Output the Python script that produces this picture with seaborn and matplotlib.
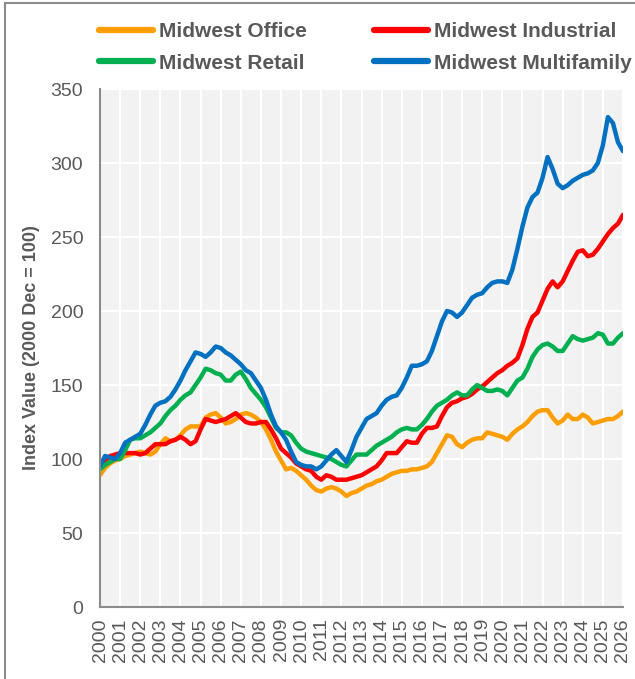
import matplotlib
matplotlib.use("Agg")
import matplotlib.pyplot as plt
import seaborn as sns
import numpy as np
import pandas as pd
from matplotlib.lines import Line2D
from matplotlib.patches import Rectangle

# quarterly dates, 2000 Q1 .. 2026 Q1
quarters = [2000 + k / 4 for k in range(105)]

office = [
    89, 94, 97, 99, 100, 102, 103, 104, 105, 104, 103, 105,
    110, 114, 112, 113, 116, 120, 122, 122, 122, 128, 130, 131,
    128, 124, 125, 127, 130, 131, 130, 128, 125, 120, 113, 105,
    99, 93, 94, 92, 89, 86, 82, 79, 78, 80, 81, 80,
    78, 75, 77, 78, 80, 82, 83, 85, 86, 88, 90, 91,
    92, 92, 93, 93, 94, 95, 98, 104, 110, 116, 115, 110,
    108, 111, 113, 114, 114, 118, 117, 116, 115, 113, 117, 120,
    122, 125, 129, 132, 133, 133, 128, 124, 126, 130, 127, 127,
    130, 128, 124, 125, 126, 127, 127, 129, 132,
]
industrial = [
    94, 99, 102, 103, 104, 104, 104, 104, 103, 104, 107, 110,
    110, 110, 112, 113, 115, 113, 110, 112, 120, 127, 126, 125,
    126, 127, 129, 131, 128, 125, 124, 124, 125, 125, 120, 114,
    107, 104, 101, 97, 95, 93, 92, 88, 86, 89, 88, 86,
    86, 86, 87, 88, 89, 91, 93, 95, 99, 104, 104, 104,
    108, 112, 111, 111, 117, 121, 121, 122, 129, 135, 138, 139,
    141, 142, 144, 147, 149, 152, 155, 158, 160, 163, 165, 168,
    177, 188, 196, 199, 207, 215, 220, 216, 220, 227, 234, 240,
    241, 237, 238, 242, 247, 252, 256, 259, 265,
]
retail = [
    93, 96, 98, 100, 100, 106, 113, 114, 114, 116, 118, 121,
    124, 129, 133, 136, 140, 143, 145, 150, 155, 161, 160, 158,
    157, 153, 153, 157, 159, 154, 148, 144, 140, 135, 128, 121,
    118, 118, 116, 111, 107, 105, 104, 103, 102, 101, 100, 98,
    96, 95, 99, 103, 103, 103, 106, 109, 111, 113, 115, 118,
    120, 121, 120, 120, 123, 127, 132, 136, 138, 140, 143, 145,
    143, 143, 147, 150, 148, 146, 146, 147, 146, 143, 148, 153,
    155, 161, 169, 174, 177, 178, 176, 173, 173, 178, 183, 181,
    180, 181, 182, 185, 184, 178, 178, 182, 185,
]
multifamily = [
    95, 102, 101, 100, 104, 111, 113, 115, 117, 123, 130, 136,
    138, 139, 142, 147, 153, 160, 166, 172, 171, 169, 172, 176,
    175, 172, 170, 167, 164, 160, 158, 153, 148, 140, 130, 122,
    118, 113, 105, 98, 96, 95, 95, 93, 95, 99, 103, 106,
    102, 98, 106, 115, 121, 127, 129, 131, 136, 140, 142, 143,
    148, 155, 163, 163, 164, 166, 173, 183, 193, 200, 199, 196,
    199, 204, 209, 211, 212, 216, 219, 220, 220, 219, 228, 242,
    257, 270, 277, 280, 290, 304, 296, 286, 283, 285, 288, 290,
    292, 293, 295, 300, 312, 331, 327, 314, 308,
]

series_names = ["Midwest Office", "Midwest Industrial", "Midwest Retail", "Midwest Multifamily"]
series_colors = ["#FF9E00", "#FF0000", "#00B050", "#0070C0"]
year_ticks = list(range(2000, 2027))
value_ticks = list(range(0, 351, 50))

df = pd.DataFrame({
    "date": quarters * 4,
    "value": office + industrial + retail + multifamily,
    "series": np.repeat(series_names, len(quarters)),
})

sns.set_style("whitegrid", {
    "axes.facecolor": "#F2F2F2",
    "grid.color": "white",
    "axes.edgecolor": "#8C8C8C",
})
plt.rcParams["font.family"] = ["Liberation Sans", "DejaVu Sans"]

text_gray = "#595959"

fig = plt.figure(figsize=(6.35, 6.79), dpi=100)
ax = fig.add_axes([100 / 635, 1 - 607 / 679, 523 / 635, 518 / 679])

sns.lineplot(data=df, x="date", y="value", hue="series", hue_order=series_names,
             palette=series_colors, linewidth=3.2, legend=False, ax=ax)

ax.set_xlim(2000, 2026)
ax.set_ylim(0, 350)
ax.set_xticks(year_ticks)
ax.set_xticklabels([str(y) for y in year_ticks], rotation=90)
ax.set_yticks(value_ticks)
ax.grid(True, color="white", linewidth=1.5)
ax.set_axisbelow(True)

for side in ["top", "right"]:
    ax.spines[side].set_visible(False)
for side in ["left", "bottom"]:
    ax.spines[side].set_color("#8C8C8C")
    ax.spines[side].set_linewidth(1.5)

ax.tick_params(axis="both", colors="#8C8C8C", labelcolor=text_gray, labelsize=14,
               length=4, width=1.2, direction="out")
ax.tick_params(axis="y", pad=8)
ax.tick_params(axis="x", pad=4)
ax.set_xlabel("")
ax.set_ylabel("Index Value (2000 Dec = 100)", fontsize=13, fontweight="bold",
              color=text_gray, labelpad=8)

# legend is filled column by column, so order handles to get
# Office / Industrial on the first row and Retail / Multifamily on the second
order = [0, 2, 1, 3]
handles = [Line2D([0], [0], color=series_colors[i], linewidth=4.5, solid_capstyle="round")
           for i in order]
labels = [series_names[i] for i in order]
leg = fig.legend(handles, labels, loc="center", bbox_to_anchor=(0.575, 0.930),
                 ncol=2, frameon=False, handlelength=2.6, handletextpad=0.3,
                 columnspacing=3.2, labelspacing=0.6,
                 prop={"size": 15, "weight": "bold"})
for t in leg.get_texts():
    t.set_color(text_gray)

# outer frame of the chart
fig.patches.append(Rectangle((5 / 635, -0.05), 1.1, 1.05 - 3 / 679, transform=fig.transFigure,
                             fill=False, edgecolor="#8C8C8C", linewidth=1.5))

fig.savefig("out.png", dpi=100)
